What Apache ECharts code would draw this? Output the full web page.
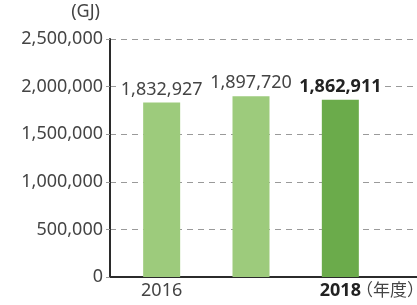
<!DOCTYPE html>
<html>
<head>
<meta charset="utf-8">
<script src="https://cdn.jsdelivr.net/npm/echarts@6/dist/echarts.min.js"></script>
<style>
  html, body { margin: 0; padding: 0; background: #fff; }
  #container { width: 417px; height: 305px; }
</style>
</head>
<body>
<div id="container"></div>
<script>
// data
var years = ['2016', '2017', '2018'];
var energy = [1832927, 1897720, 1862911];
var yTicks = [0, 500000, 1000000, 1500000, 2000000, 2500000];

var lightGreen = '#9dcb7c';
var darkGreen = '#6bab4b';
var textColor = '#444';
var font = '"Noto Sans", sans-serif';

function withCommas(v) {
    return String(v).replace(/\B(?=(\d{3})+(?!\d))/g, ',');
}

var dom = document.getElementById('container');
var myChart = echarts.init(dom, null, { renderer: 'canvas' });

var barData = energy.map(function (v, i) {
    var last = i === energy.length - 1;
    return {
        value: v,
        itemStyle: { color: last ? darkGreen : lightGreen },
        label: { fontWeight: last ? 'bold' : 'normal', color: last ? '#222' : textColor }
    };
});

var option = {
    animation: false,
    textStyle: { fontFamily: font },
    grid: [
        // frame: axis lines + dashed grid lines across full width
        { left: 110, right: 0, top: 39, bottom: 28 },
        // bars
        { left: 117, right: 32, top: 39, bottom: 28 }
    ],
    xAxis: [
        {
            gridIndex: 0, type: 'category', data: [''],
            axisLine: { show: true, lineStyle: { color: '#2b2b2b', width: 2 } },
            axisTick: { show: false }, axisLabel: { show: false }
        },
        {
            gridIndex: 1, type: 'category', data: years,
            axisLine: { show: false }, axisTick: { show: false },
            axisLabel: {
                margin: 5,
                fontSize: 18,
                color: textColor,
                fontFamily: font,
                formatter: function (v) {
                    return v === years[years.length - 1] ? '{b|' + v + '}' : v;
                },
                rich: { b: { fontWeight: 'bold', fontSize: 18, color: '#222', fontFamily: font } }
            }
        }
    ],
    yAxis: [
        {
            gridIndex: 0, type: 'value', min: 0, max: 2500000, interval: 500000,
            axisLine: { show: true, lineStyle: { color: '#2b2b2b', width: 2 } },
            axisTick: { show: true, length: 4, lineStyle: { color: '#999' } },
            axisLabel: {
                margin: 7, fontSize: 18, color: textColor, fontFamily: font,
                formatter: function (v) { return withCommas(v); }
            },
            splitLine: { show: true, lineStyle: { color: '#9a9a9a', type: [6, 5], width: 1 } }
        },
        {
            gridIndex: 1, type: 'value', min: 0, max: 2500000, interval: 500000,
            show: false
        }
    ],
    series: [
        {
            type: 'bar',
            xAxisIndex: 1,
            yAxisIndex: 1,
            barWidth: 37,
            data: barData,
            label: {
                show: true,
                position: 'top',
                distance: 4,
                fontSize: 18,
                fontFamily: font,
                backgroundColor: '#fff',
                padding: [0, 3],
                formatter: function (p) { return withCommas(p.value); }
            }
        }
    ],
    graphic: [
        {
            type: 'text', right: 317, top: 3,
            style: { text: '(GJ)', font: '18px "Noto Sans", sans-serif', fill: textColor, textAlign: 'right' }
        },
        {
            type: 'text', left: 356, top: 281,
            style: { text: '（年度）', font: '17px "Noto Sans CJK JP", sans-serif', fill: textColor }
        }
    ]
};

myChart.setOption(option);
window.addEventListener('resize', myChart.resize);
</script>
</body>
</html>
